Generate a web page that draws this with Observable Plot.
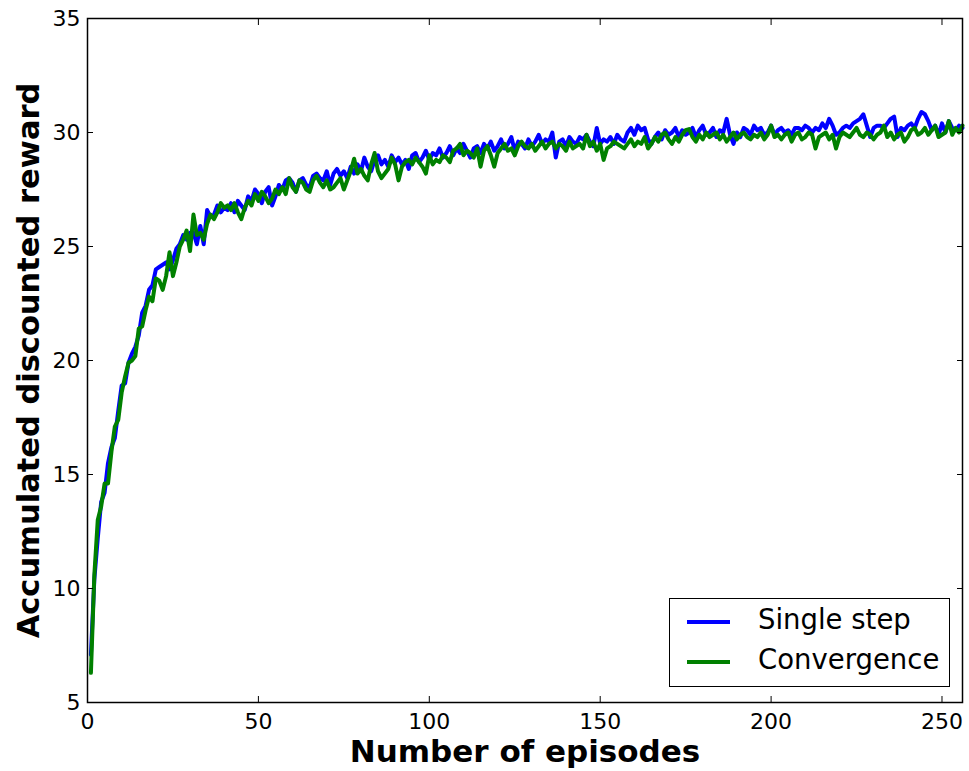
<!DOCTYPE html>
<html>
<head>
<meta charset="utf-8">
<script src="https://cdn.jsdelivr.net/npm/d3@7"></script>
<script src="https://cdn.jsdelivr.net/npm/@observablehq/plot@0.6"></script>
<style>
  body { margin: 0; background: #fff; }
  #wrap { position: relative; width: 969px; height: 771px; font-family: "DejaVu Sans", sans-serif; }
  #legend { position: absolute; left: 669px; top: 598px; width: 281px; height: 89px; border: 1.3px solid #000; background: #fff; box-sizing: border-box; }
  .li { position: absolute; left: 0; font-size: 27.5px; line-height: 1; }
  .sw { position: absolute; left: 17px; width: 43px; height: 4px; }
  .lt { position: absolute; left: 88px; white-space: nowrap; }
</style>
</head>
<body>
<div id="wrap"></div>
<script>
const seriesNames = ["Single step", "Convergence"];
const seriesColors = ["#0000ff", "#008000"];
const xTicks = [0, 50, 100, 150, 200, 250];
const yTicks = [5, 10, 15, 20, 25, 30, 35];
const xLabel = "Number of episodes";
const yLabel = "Accumulated discounted reward";

const singleStep = [
  7.1, 10.4, 12.2, 13.8, 14.2, 15.5, 16.2, 16.6, 17.8, 18.9,
  19.0, 19.9, 20.3, 20.6, 21.1, 22.1, 22.4, 23.1, 23.3, 24.0,
  24.1, 24.2, 24.3, 24.0, 24.4, 24.9, 25.1, 25.5, 25.3, 25.6,
  25.6, 25.1, 25.9, 25.1, 26.6, 26.3,
  26.4, 26.8, 26.5, 26.7, 26.6, 26.9, 26.5, 27.0, 26.8, 26.6,
  27.2, 27.0, 27.5, 27.3, 26.9, 27.4, 27.6, 26.8, 27.2, 27.7,
  27.5, 27.9, 28.0, 27.8, 27.4, 27.9, 28.0, 27.7, 27.6, 28.1,
  28.2, 28.0, 27.9, 28.3, 27.7, 28.2, 28.4, 28.1, 28.3, 28.0,
  28.5, 28.2, 28.6, 28.3, 28.9, 28.5, 28.3, 28.8, 29.0, 28.6,
  28.8, 28.5, 29.0, 28.7, 28.9, 28.6, 28.8, 28.4, 29.0, 29.1,
  28.7, 28.9, 29.2, 28.8, 29.1, 29.0, 29.3, 28.9, 29.1, 29.4,
  29.0, 29.3, 29.1, 29.5, 29.2, 28.9, 29.3, 29.4, 29.1, 29.5,
  29.3, 29.6, 29.2, 29.4, 29.7, 29.3, 29.5, 29.8, 29.2, 29.6,
  29.5, 29.3, 29.7, 29.4, 29.6, 29.9, 29.5, 29.7, 29.6, 30.0,
  28.9, 29.6, 29.7, 29.4, 29.8, 29.6, 29.5, 29.8, 29.7, 29.9,
  29.6, 29.4, 30.2, 29.5, 29.7, 29.6, 29.8, 29.5, 29.9, 29.7,
  29.6, 30.0, 30.2, 29.9, 30.3, 30.1, 30.2, 29.7, 29.5, 29.8,
  30.0, 29.7, 30.1, 29.9, 30.0, 30.2, 29.8, 30.1, 29.9, 30.0,
  30.2, 29.8, 30.1, 30.3, 29.9, 30.0, 30.2, 29.8, 30.1, 30.0,
  30.6, 29.9, 29.5, 30.0, 29.8, 30.2, 30.1, 29.9, 30.3, 30.1,
  30.2, 29.9, 30.0, 30.3, 29.9, 30.1, 30.2, 30.0, 30.1, 29.9,
  30.2, 30.2, 30.1, 30.3, 30.2, 30.0, 30.2, 30.1, 30.4, 30.2,
  30.6, 30.3, 29.9, 30.0, 30.2, 30.3, 30.2, 30.4, 30.5, 30.6,
  30.8, 30.3, 29.8, 30.2, 30.3, 30.3, 30.2, 30.4, 30.6, 30.7,
  29.8, 30.2, 30.1, 30.3, 30.4, 30.2, 30.6, 30.9, 30.8, 30.5,
  30.1, 30.3, 29.9, 30.4, 30.0, 30.5, 30.2, 30.1, 30.3, 30.2
];

const convergence = [
  6.3, 10.6, 13.0, 13.6, 14.6, 14.6, 16.0, 17.1, 17.4, 18.6,
  19.3, 19.9, 20.0, 20.2, 21.4, 21.5, 22.2, 22.8, 22.6, 23.6,
  23.5, 23.1, 23.7, 24.75, 23.7, 24.3, 25.0, 25.3, 25.7, 24.8,
  26.4, 25.5, 25.6, 25.3, 26.0, 26.4,
  26.2, 26.5, 26.9, 26.7, 26.8, 26.6, 26.9, 26.5, 26.2, 26.7,
  27.0, 26.8, 27.3, 27.0, 27.4, 27.2, 26.9, 27.1, 27.5, 27.3,
  27.6, 27.3, 28.0, 27.6, 27.4, 27.9, 27.8, 27.5, 27.4, 27.9,
  28.1, 27.8, 27.6, 27.9, 27.5, 27.6, 27.8, 28.0, 27.5, 27.9,
  28.3, 28.85, 28.2, 28.4, 28.1, 27.9, 28.6, 29.1, 28.3, 28.0,
  28.2, 28.4, 28.9, 28.6, 27.9, 28.5, 28.7, 28.8, 28.6, 28.9,
  28.7, 28.5, 28.2, 29.0, 28.6, 28.8, 28.7, 29.0, 28.9, 28.7,
  29.2, 29.3, 29.5, 29.0, 29.2, 29.1, 28.9, 29.3, 28.5, 29.2,
  29.4, 29.0, 28.5, 29.1, 29.3, 29.5, 29.2, 29.3, 29.0, 29.4,
  29.6, 29.4, 29.3, 29.5, 29.2, 29.4, 29.6, 29.3, 29.5, 29.6,
  29.3, 29.5, 29.4, 29.2, 29.6, 29.3, 29.4, 29.5, 29.3, 29.9,
  29.4, 29.6, 29.2, 29.5, 28.8, 29.3, 29.4, 29.6, 29.5, 29.4,
  29.3, 29.5, 29.7, 29.4, 29.6, 29.5, 29.8, 29.3, 29.5, 29.8,
  29.6, 29.9, 30.0, 29.7, 29.5, 29.8, 29.6, 29.9, 30.1, 30.15,
  29.8, 29.6, 29.9, 29.7, 30.0, 29.8, 29.9, 30.0, 29.7, 29.9,
  29.6, 29.8, 30.0, 29.7, 29.9, 30.0, 29.8, 29.7, 29.9, 29.8,
  30.0, 29.7, 29.9, 30.3, 29.8, 29.9, 29.7, 29.9, 30.0, 29.6,
  29.9, 30.0, 29.7, 29.8, 30.0, 29.9, 29.3, 29.8, 29.9, 30.0,
  29.7, 29.9, 29.3, 29.8, 30.0, 29.9, 29.8, 30.0, 30.2, 29.9,
  29.8, 30.0, 29.9, 29.7, 29.9, 30.0, 30.3, 29.8, 30.0, 29.7,
  29.9, 30.0, 29.6, 29.8, 30.1, 30.2, 29.9, 30.0, 30.2, 29.9,
  30.1, 30.3, 29.8, 29.9, 30.0, 30.5, 29.9, 30.2, 30.0, 30.3
];

const rows = [];
singleStep.forEach((v, i) => rows.push({episode: i + 1, reward: v, series: seriesNames[0]}));
convergence.forEach((v, i) => rows.push({episode: i + 1, reward: v, series: seriesNames[1]}));

const font = "DejaVu Sans";
const chart = Plot.plot({
  width: 969,
  height: 771,
  marginLeft: 87,
  marginRight: 7,
  marginTop: 18,
  marginBottom: 69,
  style: {fontFamily: font, background: "#fff", color: "#000"},
  x: {domain: [0, 256]},
  y: {domain: [5, 35]},
  color: {domain: seriesNames, range: seriesColors},
  marks: [
    Plot.line(rows, {x: "episode", y: "reward", z: "series", stroke: "series", strokeWidth: 4, strokeLinejoin: "round"}),
    Plot.axisX({ticks: xTicks, tickSize: -6, tickPadding: 17, fontSize: 22, label: null, stroke: "#000", strokeWidth: 1}),
    Plot.axisX({anchor: "top", ticks: xTicks, tickSize: -6, tickFormat: () => "", label: null, stroke: "#000", strokeWidth: 1}),
    Plot.axisY({ticks: yTicks, tickSize: -6, tickPadding: 13, fontSize: 22, label: null, stroke: "#000", strokeWidth: 1}),
    Plot.axisY({anchor: "right", ticks: yTicks, tickSize: -6, tickFormat: () => "", label: null, stroke: "#000", strokeWidth: 1}),
    Plot.frame({stroke: "#000", strokeWidth: 1.5}),
    Plot.text([xLabel], {text: d => d, frameAnchor: "bottom", dy: 50, fontSize: 31, fontWeight: "bold", fill: "#000", lineAnchor: "middle", textAnchor: "middle"}),
    Plot.text([yLabel], {text: d => d, frameAnchor: "left", dx: -58, rotate: -90, fontSize: 30.5, fontWeight: "bold", fill: "#000", lineAnchor: "middle", textAnchor: "middle"})
  ]
});

const wrap = document.getElementById("wrap");
wrap.appendChild(chart);

const legend = document.createElement("div");
legend.id = "legend";
seriesNames.forEach((name, i) => {
  const top = 23 + i * 40;
  const sw = document.createElement("div");
  sw.className = "sw";
  sw.style.top = (top - 2) + "px";
  sw.style.background = seriesColors[i];
  const lt = document.createElement("div");
  lt.className = "li lt";
  lt.style.top = (top - 16) + "px";
  lt.textContent = name;
  legend.appendChild(sw);
  legend.appendChild(lt);
});
wrap.appendChild(legend);
</script>
</body>
</html>
